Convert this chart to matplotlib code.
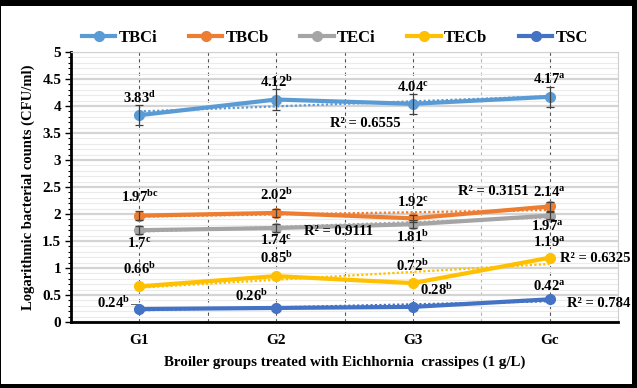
import numpy as np
import matplotlib
matplotlib.use("Agg")
import matplotlib.pyplot as plt
from matplotlib.patches import Rectangle
from matplotlib.lines import Line2D
from matplotlib.ticker import MultipleLocator

plt.rcParams["font.family"] = ["Liberation Serif", "DejaVu Serif"]
plt.rcParams["font.weight"] = "bold"
plt.rcParams["mathtext.fontset"] = "custom"
plt.rcParams["mathtext.rm"] = "Liberation Serif:bold"
plt.rcParams["mathtext.it"] = "Liberation Serif:bold"
plt.rcParams["mathtext.bf"] = "Liberation Serif:bold"

# ── 数据 ──────────────────────────────────────────────
groups = ["G1", "G2", "G3", "Gc"]
series_names = ["TBCi", "TBCb", "TECi", "TECb", "TSC"]
colors = ["#5B9BD5", "#ED7D31", "#A5A5A5", "#FFC000", "#4472C4"]

tbci = [3.83, 4.12, 4.04, 4.17]
tbcb = [1.97, 2.02, 1.92, 2.14]
teci = [1.70, 1.74, 1.81, 1.97]
tecb = [0.66, 0.85, 0.72, 1.19]
tsc = [0.24, 0.26, 0.28, 0.42]

tbci_err = [0.19, 0.19, 0.18, 0.19]
tbcb_err = [0.08, 0.07, 0.07, 0.08]
teci_err = [0.07, 0.07, 0.07, 0.06]
tecb_err = [0.0, 0.0, 0.0, 0.0]
tsc_err = [0.0, 0.0, 0.0, 0.0]

tbci_sig = ["d", "b", "c", "a"]
tbcb_sig = ["bc", "b", "c", "a"]
teci_sig = ["c", "c", "b", "a"]
tecb_sig = ["b", "b", "b", "a"]
tsc_sig = ["b", "b", "b", "a"]

r2_labels = ["R² = 0.6555", "R² = 0.3151", "R² = 0.9111", "R² = 0.6325", "R² = 0.784"]

values = [tbci, tbcb, teci, tecb, tsc]
errors = [tbci_err, tbcb_err, teci_err, tecb_err, tsc_err]
sigs = [tbci_sig, tbcb_sig, teci_sig, tecb_sig, tsc_sig]

# 标签位置 (x 偏移, y)，数据坐标
label_pos = [
    [(0, 4.15), (0, 4.44), (0, 4.35), (0, 4.50)],
    [(0, 2.31), (0, 2.35), (0, 2.22), (0, 2.41)],
    [(0, 1.46), (0, 1.52), (0, 1.57), (-0.02, 1.78)],
    [(0, 0.98), (0, 1.18), (0, 1.04), (0, 1.48)],
    [(-0.19, 0.35), (-0.18, 0.48), (0.17, 0.59), (0, 0.67)],
]
r2_pos = [(1.65, 3.68), (2.59, 2.41), (1.46, 1.67), (3.33, 1.17), (3.36, 0.35)]

x = np.arange(len(groups))

fig = plt.figure(figsize=(6.37, 3.88), dpi=100, facecolor="black")
fig.patches.append(Rectangle((1 / 637, 4 / 388), 631 / 637, 378 / 388,
                             transform=fig.transFigure, facecolor="white",
                             edgecolor="none", zorder=-5))
ax = fig.add_axes([71 / 637, 66 / 388, 547 / 637, 270 / 388])

ax.set_xlim(-0.5, 3.5)
ax.set_ylim(0, 5)
ax.yaxis.set_major_locator(MultipleLocator(0.5))
ax.yaxis.set_minor_locator(MultipleLocator(0.1))
ax.set_yticks(np.arange(0, 5.01, 0.5))
ax.set_yticklabels(["0", "0.5", "1", "1.5", "2", "2.5", "3", "3.5", "4", "4.5", "5"])
ax.grid(True, axis="y", which="major", color="#d4d4d4", lw=1.6, zorder=0)
ax.grid(True, axis="y", which="minor", color="#ebebeb", lw=0.8, zorder=0)
for xv in np.arange(0, 3.01, 0.5):
    c = "#b5b5b5" if xv == 2.5 else "#555555"
    ax.axvline(xv, color=c, lw=0.8, ls=(0, (3, 3)), zorder=1)

ax.set_xticks(x)
ax.set_xticklabels(groups, fontsize=11, fontweight="bold")
ax.tick_params(axis="x", length=0, pad=9)
ax.tick_params(axis="y", which="major", length=4, width=1, labelsize=11, pad=3)
ax.tick_params(axis="y", which="minor", length=2, width=0.8)
for lab in ax.get_yticklabels():
    lab.set_fontweight("bold")

ax.spines["left"].set_linewidth(2)
ax.spines["bottom"].set_linewidth(2)
ax.spines["top"].set_color("#d0d0d0")
ax.spines["right"].set_color("#d0d0d0")

for i, name in enumerate(series_names):
    y = np.array(values[i])
    col = colors[i]
    # 线性趋势线
    k, b = np.polyfit(x, y, 1)
    ax.plot(x, k * x + b, color=col, lw=1.6, ls=(0, (1, 1)), zorder=3)
    ax.plot(x, y, color=col, lw=3, marker="o", ms=7, zorder=4)
    if max(errors[i]) > 0:
        ax.errorbar(x, y, yerr=errors[i], fmt="none", ecolor="#404040",
                    elinewidth=0.9, capsize=3, capthick=0.9, zorder=5)
    for j in range(len(x)):
        dx, ly = label_pos[i][j]
        ax.text(x[j] + dx, ly, f"{y[j]:g}" + r"$^{\mathrm{" + sigs[i][j] + "}}$",
                ha="center", va="center", fontsize=10.5, fontweight="bold", zorder=6)
    rx, ry = r2_pos[i]
    ax.text(rx, ry, r2_labels[i], ha="center", va="center", fontsize=10.5,
            fontweight="bold", zorder=6)

# 0.24 标签的引线
ax.plot([-0.06, -0.01], [0.33, 0.33], color="#666666", lw=0.7)

ax.set_ylabel("Logarithmic bacterial counts (CFU/ml)", fontsize=10.5, fontweight="bold",
              labelpad=5)
ax.set_xlabel("Broiler groups treated with Eichhornia  crassipes (1 g/L)", fontsize=10.8,
              fontweight="bold", labelpad=6)

handles = [Line2D([0], [0], color=c, lw=3, marker="o", ms=7) for c in colors]
fig.legend(handles, series_names, loc="center", ncol=5, frameon=False,
           bbox_to_anchor=(335 / 637, 1 - 38 / 388), handlelength=2,
           columnspacing=1.9, handletextpad=0.2, prop={"weight": "bold", "size": 12})

fig.savefig("out.png", dpi=100, facecolor=fig.get_facecolor())
